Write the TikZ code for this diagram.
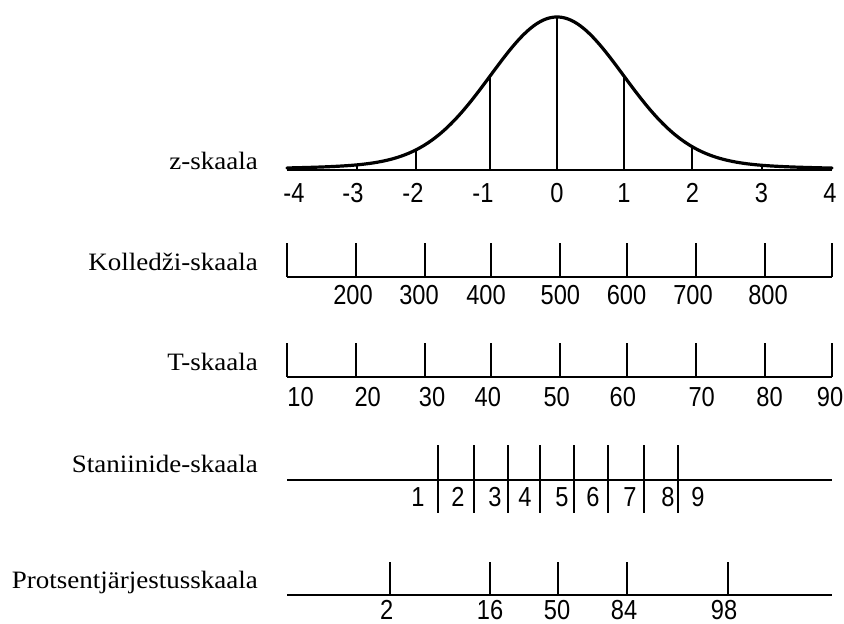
\documentclass[tikz,border=0pt]{standalone}
\usepackage{fontspec}
\setmainfont{Liberation Serif}
\newfontfamily\numfont{Liberation Sans}
\begin{document}
\begin{tikzpicture}[x=1pt,y=-1pt,
  declare function={bell(\u)=0.95*exp(-\u*\u/2)+0.05*exp(-\u*\u/12.5);},
  axisline/.style={line width=2pt},
  tickline/.style={line width=2pt},
  curveline/.style={line width=3.2pt, line join=round, line cap=round},
  scalename/.style={anchor=base east, inner sep=0pt, font=\fontsize{25}{30}\selectfont, xscale=1.08},
  num/.style={anchor=base, inner sep=0pt, font=\numfont\fontsize{27.5}{30}\selectfont, xscale=0.86}]
\useasboundingbox (0,0) rectangle (844,624);

% ---------- z-scale with bell curve ----------
\node[scalename] (zname) at (258,169.5) {z-skaala};
\coordinate (zL) at (287,170);
\coordinate (zR) at (832,170);
\draw[axisline] (zL) -- (zR);
\draw[curveline] plot[domain=287:832, samples=220, smooth] (\x,{170-153*bell((\x-557)/66)});
\foreach \x in {357,416,490,557,624,692,762}
  \draw[tickline] (\x,170) -- (\x,{170-153*bell((\x-557)/66)});
\foreach \x/\t [count=\i] in {294/-4,353/-3,413/-2,483/-1,557/0,624/1,692.5/2,761.5/3,830/4}
  \node[num] (zl\i) at (\x,202) {\t};

% ---------- Kolledzi-scale ----------
\node[scalename] (kname) at (258,270) {Kolledži-skaala};
\coordinate (kL) at (287,277);
\coordinate (kR) at (832,277);
\draw[axisline] (kL) -- (kR);
\foreach \x in {287,356,425,491,560,627,696,765,832}
  \draw[tickline] (\x,243) -- (\x,277);
\foreach \x/\t [count=\i] in {353/200,419/300,486/400,560.4/500,626.5/600,693/700,768/800}
  \node[num] (kl\i) at (\x,304) {\t};

% ---------- T-scale ----------
\node[scalename] (tname) at (258,370) {T-skaala};
\coordinate (tL) at (287,377);
\coordinate (tR) at (832,377);
\draw[axisline] (tL) -- (tR);
\foreach \x in {287,356,425,491,560,627,696,765,832}
  \draw[tickline] (\x,343) -- (\x,377);
\foreach \x/\t [count=\i] in {300.6/10,367.7/20,432/30,487.8/40,556.7/50,622.8/60,701.7/70,769.6/80,830/90}
  \node[num] (tl\i) at (\x,406) {\t};

% ---------- Stanine scale ----------
\node[scalename] (sname) at (258,472.7) {Staniinide-skaala};
\coordinate (sL) at (287,480);
\coordinate (sR) at (832,480);
\draw[axisline] (sL) -- (sR);
\foreach \x in {438,474,508,540,574,608,644,678}
  \draw[tickline] (\x,445) -- (\x,513);
\foreach \x/\t [count=\i] in {418/1,458/2,495/3,525/4,562/5,593/6,630/7,668/8,698/9}
  \node[num] (sl\i) at (\x,506) {\t};

% ---------- Percentile scale ----------
\node[scalename] (pname) at (258,588.3) {Protsentjärjestusskaala};
\coordinate (pL) at (287,595);
\coordinate (pR) at (832,595);
\draw[axisline] (pL) -- (pR);
\foreach \x in {390,490,558,627,728}
  \draw[tickline] (\x,562) -- (\x,595);
\foreach \x/\t [count=\i] in {386.7/2,490/16,557/50,624/84,724/98}
  \node[num] (pl\i) at (\x,619.5) {\t};
\end{tikzpicture}
\end{document}
